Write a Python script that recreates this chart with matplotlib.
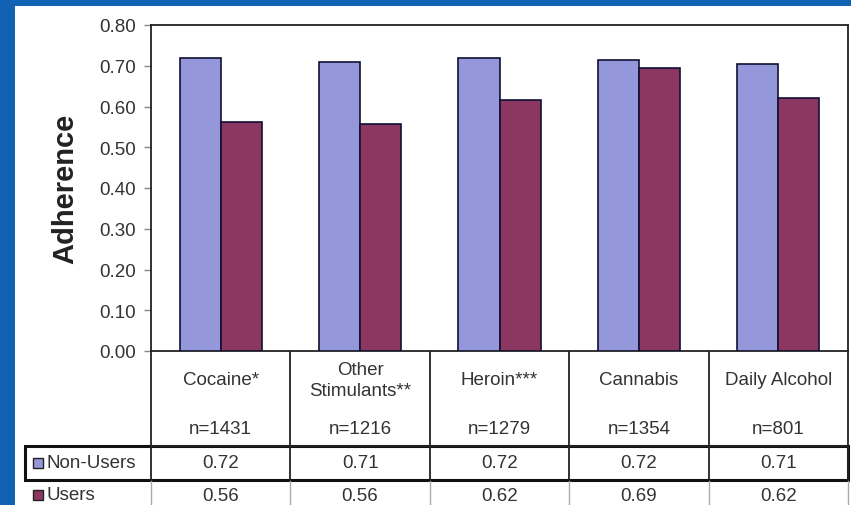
import matplotlib
matplotlib.use("Agg")
import matplotlib.pyplot as plt
from matplotlib.patches import Rectangle
from matplotlib.lines import Line2D
from matplotlib.transforms import blended_transform_factory

plt.rcParams['font.family'] = ['Liberation Sans', 'DejaVu Sans']

categories = ["Cocaine*", "Other\nStimulants**", "Heroin***", "Cannabis", "Daily Alcohol"]
n_labels = ["n=1431", "n=1216", "n=1279", "n=1354", "n=801"]
non_users = [0.72, 0.71, 0.72, 0.715, 0.705]
users = [0.562, 0.556, 0.616, 0.694, 0.621]
non_users_txt = ["0.72", "0.71", "0.72", "0.72", "0.71"]
users_txt = ["0.56", "0.56", "0.62", "0.69", "0.62"]
series_names = ["Non-Users", "Users"]
yticks = [0.0, 0.1, 0.2, 0.3, 0.4, 0.5, 0.6, 0.7, 0.8]

W, H = 851, 506
c_non = "#9497d9"
c_use = "#8c3762"
bg = "#1262b3"
txt_c = "#333333"
fs = 13.5

fig = plt.figure(figsize=(W / 100, H / 100), dpi=100)
fig.patch.set_facecolor(bg)

def fx(px):
    return px / W

def fy(py):
    return (H - py) / H

# white panel
fig.patches.append(Rectangle((fx(15), 0), 1 - fx(15), fy(7), transform=fig.transFigure,
                             facecolor="white", edgecolor="none", zorder=-10))

left, right, top, bottom = 151, 848, 26, 352
ax = fig.add_axes([fx(left), fy(bottom), fx(right) - fx(left), fy(top) - fy(bottom)])
ax.set_zorder(5)
ax.set_facecolor("white")

x = list(range(len(categories)))
w = 0.295
ax.bar([i - w / 2 for i in x], non_users, width=w, color=c_non, edgecolor="#111133", linewidth=1.2, zorder=3)
ax.bar([i + w / 2 for i in x], users, width=w, color=c_use, edgecolor="#111133", linewidth=1.2, zorder=3)

ax.set_xlim(-0.5, len(categories) - 0.5)
ax.set_ylim(0, 0.8)
ax.set_yticks(yticks)
ax.set_yticklabels([f"{v:.2f}" for v in yticks], fontsize=fs, color=txt_c)
ax.tick_params(axis="y", length=5, width=1, color="#888888", pad=6)
ax.set_xticks([])
for s in ax.spines.values():
    s.set_color("#222222")
    s.set_linewidth(1.3)
ax.set_ylabel("Adherence", fontsize=21, fontweight="bold", color="#222222", labelpad=14)

# table
bt = blended_transform_factory(ax.transData, fig.transFigure)
ft = fig.transFigure

def hline(x0, x1, y, lw=1.3, color="#222222"):
    fig.add_artist(Line2D([fx(x0), fx(x1)], [fy(y), fy(y)], transform=ft, lw=lw, color=color))

# vertical boundaries
for b in [i - 0.5 for i in x] + [len(categories) - 0.5]:
    fig.add_artist(Line2D([b, b], [fy(352), fy(480)], transform=bt, lw=1.3, color="#222222"))
    fig.add_artist(Line2D([b, b], [fy(482), fy(506)], transform=bt, lw=1.0, color="#aaaaaa"))

hline(151, 848, 447)
# Non-Users row box (thick)
fig.add_artist(Rectangle((fx(25), fy(481)), fx(848) - fx(25), fy(447) - fy(481), transform=ft,
                         fill=False, edgecolor="#111111", lw=2.2))

for i, (cat, nl, nv, uv) in enumerate(zip(categories, n_labels, non_users_txt, users_txt)):
    fig.text(i, fy(381), cat, transform=bt, ha="center", va="center", fontsize=fs,
             color=txt_c, linespacing=1.3)
    fig.text(i, fy(430), nl, transform=bt, ha="center", va="center", fontsize=fs, color=txt_c)
    fig.text(i, fy(464), nv, transform=bt, ha="center", va="center", fontsize=fs, color=txt_c)
    fig.text(i, fy(497), uv, transform=bt, ha="center", va="center", fontsize=fs, color=txt_c)

# row labels with legend keys
for name, col, yc in zip(series_names, [c_non, c_use], [464, 496]):
    fig.patches.append(Rectangle((fx(33), fy(yc + 5)), fx(43) - fx(33), fy(yc - 5) - fy(yc + 5),
                                 transform=ft, facecolor=col, edgecolor="#222222", lw=1.0))
    fig.text(fx(46), fy(yc), name, transform=ft, ha="left", va="center", fontsize=fs, color=txt_c)

fig.savefig("out.png", dpi=100, facecolor=bg)
